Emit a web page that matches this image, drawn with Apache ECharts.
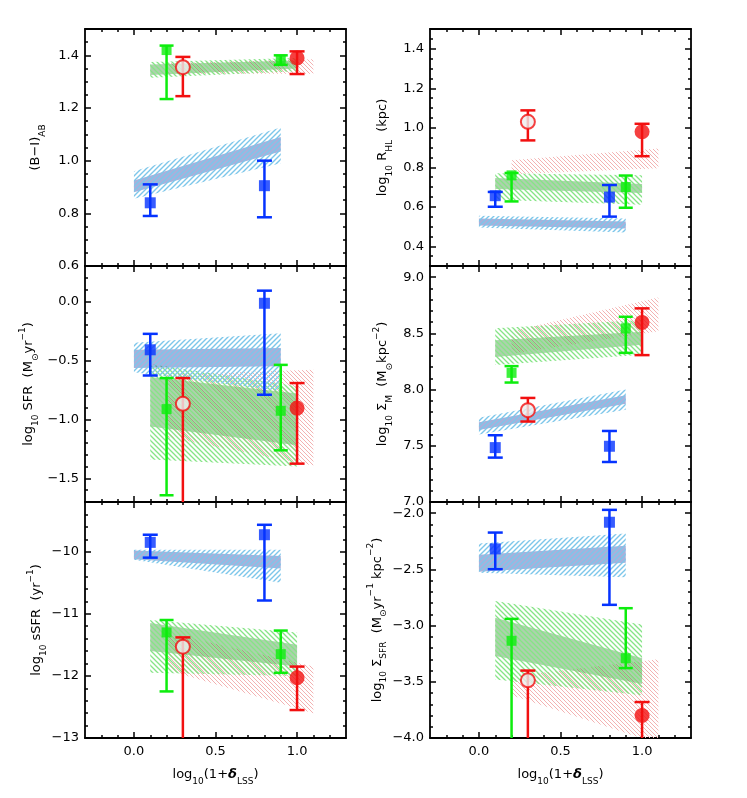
<!DOCTYPE html>
<html>
<head>
<meta charset="utf-8">
<script src="https://cdn.jsdelivr.net/npm/echarts@6/dist/echarts.min.js"></script>
<style>
html,body{margin:0;padding:0;background:#fff;}
#chart{width:747px;height:798px;}
</style>
</head>
<body>
<div id="chart"></div>
<script>
// ---- data: points are [x, y, errLo, errHi], bands are [x0, lo0, hi0, x1, lo1, hi1]
// (B-I)_AB
var biBlue = [[0.1, 0.84, 0.79, 0.91], [0.8, 0.905, 0.785, 1.00]];
var biGreen = [[0.2, 1.42, 1.234, 1.437], [0.9, 1.383, 1.364, 1.40]];
var biRedOpen = [[0.3, 1.355, 1.245, 1.394]];
var biRedFill = [[1.0, 1.39, 1.329, 1.415]];
var biBlueIn = [0.0, 0.88, 0.925, 0.9, 1.035, 1.09];
var biBlueOut = [0.0, 0.855, 0.96, 0.9, 0.99, 1.126];
var biGreenIn = [0.1, 1.325, 1.365, 1.0, 1.35, 1.38];
var biGreenOut = [0.1, 1.315, 1.375, 1.0, 1.34, 1.39];
var biRedOut = [0.2, 1.33, 1.37, 1.1, 1.33, 1.385];

// log R_HL
var rBlue = [[0.1, 0.656, 0.60, 0.675], [0.8, 0.649, 0.55, 0.71]];
var rGreen = [[0.2, 0.759, 0.627, 0.771], [0.9, 0.70, 0.595, 0.758]];
var rRedOpen = [[0.3, 1.03, 0.936, 1.088]];
var rRedFill = [[1.0, 0.98, 0.856, 1.02]];
var rBlueIn = [0.0, 0.505, 0.54, 0.9, 0.49, 0.525];
var rBlueOut = [0.0, 0.495, 0.555, 0.9, 0.47, 0.54];
var rGreenIn = [0.1, 0.69, 0.745, 1.0, 0.67, 0.715];
var rGreenOut = [0.1, 0.635, 0.77, 1.0, 0.61, 0.76];
var rRedOut = [0.2, 0.765, 0.835, 1.1, 0.795, 0.895];

// log SFR
var sfrBlue = [[0.1, -0.41, -0.628, -0.275], [0.8, -0.016, -0.791, 0.091]];
var sfrGreen = [[0.2, -0.913, -1.643, -0.65], [0.9, -0.927, -1.262, -0.538]];
var sfrRedOpen = [[0.3, -0.868, -2.5, -0.65]];
var sfrRedFill = [[1.0, -0.904, -1.375, -0.692]];
var sfrBlueIn = [0.0, -0.565, -0.41, 0.9, -0.55, -0.395];
var sfrBlueOut = [0.0, -0.6, -0.35, 0.9, -0.76, -0.27];
var sfrGreenIn = [0.1, -1.06, -0.64, 1.0, -1.22, -0.78];
var sfrGreenOut = [0.1, -1.34, -0.53, 1.0, -1.40, -0.72];
var sfrRedOut = [0.2, -1.15, -0.62, 1.1, -1.39, -0.58];

// log Sigma_M
var smBlue = [[0.1, 7.484, 7.395, 7.594], [0.8, 7.496, 7.356, 7.632]];
var smGreen = [[0.2, 8.149, 8.063, 8.209], [0.9, 8.545, 8.327, 8.648]];
var smRedOpen = [[0.3, 7.817, 7.716, 7.926]];
var smRedFill = [[1.0, 8.598, 8.307, 8.723]];
var smBlueIn = [0.0, 7.64, 7.71, 0.9, 7.875, 7.95];
var smBlueOut = [0.0, 7.6, 7.75, 0.9, 7.82, 8.0];
var smGreenIn = [0.1, 8.29, 8.44, 1.0, 8.40, 8.515];
var smGreenOut = [0.1, 8.22, 8.545, 1.0, 8.31, 8.62];
var smRedOut = [0.2, 8.32, 8.52, 1.1, 8.52, 8.82];

// log sSFR
var ssBlue = [[0.1, -9.85, -10.096, -9.727], [0.8, -9.727, -10.786, -9.567]];
var ssGreen = [[0.2, -11.3, -12.25, -11.1], [0.9, -11.65, -11.95, -11.27]];
var ssRedOpen = [[0.3, -11.53, -14, -11.38]];
var ssRedFill = [[1.0, -12.03, -12.55, -11.85]];
var ssBlueIn = [0.0, -10.12, -9.98, 0.9, -10.27, -10.07];
var ssBlueOut = [0.0, -10.13, -9.97, 0.9, -10.5, -9.97];
var ssGreenIn = [0.1, -11.6, -11.15, 1.0, -11.85, -11.5];
var ssGreenOut = [0.1, -11.95, -11.1, 1.0, -12.0, -11.3];
var ssRedOut = [0.2, -11.9, -11.3, 1.1, -12.6, -11.85];

// log Sigma_SFR
var sdBlue = [[0.1, -2.317, -2.498, -2.172], [0.8, -2.08, -2.815, -1.97]];
var sdGreen = [[0.2, -3.135, -4.5, -2.94], [0.9, -3.29, -3.378, -2.845]];
var sdRedOpen = [[0.3, -3.487, -4.5, -3.40]];
var sdRedFill = [[1.0, -3.80, -4.5, -3.68]];
var sdBlueIn = [0.0, -2.52, -2.37, 0.9, -2.44, -2.29];
var sdBlueOut = [0.0, -2.53, -2.27, 0.9, -2.57, -2.18];
var sdGreenIn = [0.1, -3.27, -2.93, 1.0, -3.52, -3.29];
var sdGreenOut = [0.1, -3.48, -2.78, 1.0, -3.62, -2.99];
var sdRedOut = [0.2, -3.62, -3.45, 1.1, -4.05, -3.3];

// ---- ticks
var xMajor = [0, 0.5, 1.0];
var xMinor = [-0.2, -0.1, 0.1, 0.2, 0.3, 0.4, 0.6, 0.7, 0.8, 0.9, 1.1, 1.2];
var yMajorBI = [0.6, 0.8, 1.0, 1.2, 1.4];
var yMajorR = [0.4, 0.6, 0.8, 1.0, 1.2, 1.4];
var yMajorSFR = [-1.5, -1.0, -0.5, 0.0];
var yMajorSM = [7.0, 7.5, 8.0, 8.5, 9.0];
var yMajorSS = [-13, -12, -11, -10];
var yMajorSD = [-4.0, -3.5, -3.0, -2.5, -2.0];

// ---- colours
var cBlue = '#0533ff', cGreen = '#0ded0d', cRed = '#f21010';
var font = 'DejaVu Sans';

function hatch(color, gap, w, dir) {
    var c = document.createElement('canvas');
    c.width = gap; c.height = gap;
    var ctx = c.getContext('2d');
    ctx.strokeStyle = color;
    ctx.lineWidth = w;
    ctx.beginPath();
    if (dir > 0) {
        ctx.moveTo(-1, gap + 1); ctx.lineTo(gap + 1, -1);
        ctx.moveTo(-1, 1); ctx.lineTo(1, -1);
        ctx.moveTo(gap - 1, gap + 1); ctx.lineTo(gap + 1, gap - 1);
    } else {
        ctx.moveTo(-1, -1); ctx.lineTo(gap + 1, gap + 1);
        ctx.moveTo(gap - 1, -1); ctx.lineTo(gap + 1, 1);
        ctx.moveTo(-1, gap - 1); ctx.lineTo(1, gap + 1);
    }
    ctx.stroke();
    return { image: c, repeat: 'repeat' };
}
var blueHatch = hatch('#7cc6ea', 5, 1.4, 1);
var greenHatch = hatch('#86e486', 5, 1.3, -1);
var redHatch = hatch('#f3b2b2', 4, 1, -1);
var blueInFill = 'rgba(75,90,178,0.48)';
var greenInFill = 'rgba(60,145,60,0.42)';

function minors(lo, hi, step, major) {
    var out = [];
    for (var v = lo; v <= hi + 1e-9; v += step) {
        var r = Math.round(v * 1000) / 1000;
        if (major.indexOf(r) < 0) out.push(r);
    }
    return out;
}

var rich = {
    n: { fontSize: 13, fontFamily: font, lineHeight: 22, color: '#000' },
    s: { fontSize: 9, fontFamily: font, lineHeight: 12, verticalAlign: 'bottom', color: '#000' },
    p: { fontSize: 9, fontFamily: font, lineHeight: 12, verticalAlign: 'top', color: '#000' },
    d: { fontSize: 13, fontFamily: font, lineHeight: 22, fontWeight: 'bold', fontStyle: 'italic', color: '#000' }
};

var panels = [
    { col: 0, row: 0, min: 0.6, max: 1.5, major: yMajorBI, step: 0.05, dec: 1, gap: 38,
      name: '{n|(B\u2212I)}{s|AB}',
      blue: biBlue, green: biGreen, redOpen: biRedOpen, redFill: biRedFill,
      bands: [[biRedOut, redHatch], [biGreenIn, greenInFill], [biGreenOut, greenHatch], [biBlueIn, blueInFill], [biBlueOut, blueHatch]] },
    { col: 1, row: 0, min: 0.3, max: 1.5, major: yMajorR, step: 0.05, dec: 1, gap: 36,
      name: '{n|log}{s|10}{n| R}{s|HL}{n|  (kpc)}',
      blue: rBlue, green: rGreen, redOpen: rRedOpen, redFill: rRedFill,
      bands: [[rRedOut, redHatch], [rGreenIn, greenInFill], [rGreenOut, greenHatch], [rBlueIn, blueInFill], [rBlueOut, blueHatch]] },
    { col: 0, row: 1, min: -1.7, max: 0.3, major: yMajorSFR, step: 0.1, dec: 1, gap: 45,
      name: '{n|log}{s|10}{n| SFR  (M}{s|\u2299}{n|yr}{p|\u22121}{n|)}',
      blue: sfrBlue, green: sfrGreen, redOpen: sfrRedOpen, redFill: sfrRedFill,
      bands: [[sfrRedOut, redHatch], [sfrGreenIn, greenInFill], [sfrGreenOut, greenHatch], [sfrBlueIn, blueInFill], [sfrBlueOut, blueHatch]] },
    { col: 1, row: 1, min: 7.0, max: 9.1, major: yMajorSM, step: 0.1, dec: 1, gap: 36,
      name: '{n|log}{s|10}{n| \u03a3}{s|M}{n|  (M}{s|\u2299}{n|kpc}{p|\u22122}{n|)}',
      blue: smBlue, green: smGreen, redOpen: smRedOpen, redFill: smRedFill,
      bands: [[smRedOut, redHatch], [smGreenIn, greenInFill], [smGreenOut, greenHatch], [smBlueIn, blueInFill], [smBlueOut, blueHatch]] },
    { col: 0, row: 2, min: -13, max: -9.2, major: yMajorSS, step: 0.2, dec: 0, gap: 36,
      name: '{n|log}{s|10}{n| sSFR  (yr}{p|\u22121}{n|)}',
      blue: ssBlue, green: ssGreen, redOpen: ssRedOpen, redFill: ssRedFill,
      bands: [[ssRedOut, redHatch], [ssGreenIn, greenInFill], [ssGreenOut, greenHatch], [ssBlueIn, blueInFill], [ssBlueOut, blueHatch]] },
    { col: 1, row: 2, min: -4.0, max: -1.9, major: yMajorSD, step: 0.1, dec: 1, gap: 39,
      name: '{n|log}{s|10}{n| \u03a3}{s|SFR}{n|  (M}{s|\u2299}{n|yr}{p|\u22121}{n| kpc}{p|\u22122}{n|)}',
      blue: sdBlue, green: sdGreen, redOpen: sdRedOpen, redFill: sdRedFill,
      bands: [[sdRedOut, redHatch], [sdGreenIn, greenInFill], [sdGreenOut, greenHatch], [sdBlueIn, blueInFill], [sdBlueOut, blueHatch]] }
];

var colLeft = [85, 430], rowTop = [29, 266, 502], rowH = [237, 236, 236];
var lineStyle = { color: '#000', width: 1.8 };
var tickStyle = { color: '#000', width: 1.5 };

function fmt(dec) {
    return function (v) { return v.toFixed(dec).replace('-', '\u2212'); };
}

function bandSeries(g, arr, fill) {
    return {
        type: 'custom', xAxisIndex: 4 * g, yAxisIndex: 4 * g, clip: true, silent: true, z: 1,
        data: [arr],
        renderItem: function (params, api) {
            var a = api.coord([api.value(0), api.value(1)]);
            var b = api.coord([api.value(0), api.value(2)]);
            var c = api.coord([api.value(3), api.value(5)]);
            var d = api.coord([api.value(3), api.value(4)]);
            return { type: 'polygon', shape: { points: [a, b, c, d] }, style: { fill: fill } };
        }
    };
}

function errSeries(g, pts, color, capW) {
    return {
        type: 'custom', xAxisIndex: 4 * g, yAxisIndex: 4 * g, clip: true, silent: true, z: 2,
        data: pts,
        renderItem: function (params, api) {
            var x = api.value(0);
            var lo = api.coord([x, api.value(2)]);
            var hi = api.coord([x, api.value(3)]);
            var h = capW / 2;
            var st = { stroke: color, lineWidth: 2.5 };
            return {
                type: 'group', children: [
                    { type: 'line', shape: { x1: lo[0], y1: lo[1], x2: hi[0], y2: hi[1] }, style: st },
                    { type: 'line', shape: { x1: lo[0] - h, y1: lo[1], x2: lo[0] + h, y2: lo[1] }, style: st },
                    { type: 'line', shape: { x1: hi[0] - h, y1: hi[1], x2: hi[0] + h, y2: hi[1] }, style: st }
                ]
            };
        }
    };
}

function symSeries(g, pts, symbol, size, itemStyle) {
    return {
        type: 'scatter', xAxisIndex: 4 * g, yAxisIndex: 4 * g, silent: true, z: 3,
        symbol: symbol, symbolSize: size, itemStyle: itemStyle,
        data: pts.map(function (p) { return [p[0], p[1]]; })
    };
}

var grids = [], xAxes = [], yAxes = [], series = [];
panels.forEach(function (p, g) {
    grids.push({ left: colLeft[p.col], top: rowTop[p.row], width: 261, height: rowH[p.row] });
    var bottomRow = p.row === 2;
    var xBase = { gridIndex: g, type: 'value', min: -0.3, max: 1.3, splitLine: { show: false } };
    xAxes.push(Object.assign({}, xBase, {
        position: 'bottom',
        axisLine: { show: true, onZero: false, lineStyle: lineStyle },
        axisTick: { show: true, inside: true, length: 6, lineStyle: tickStyle, customValues: xMajor },
        axisLabel: { show: bottomRow, customValues: xMajor, formatter: fmt(1), margin: 7,
            fontSize: 13, fontFamily: font, color: '#000' },
        name: bottomRow ? '{n|log}{s|10}{n|(1+}{d|\u03b4}{s|LSS}{n|)}' : '',
        nameLocation: 'middle', nameGap: 26,
        nameTextStyle: { rich: rich }
    }));
    xAxes.push(Object.assign({}, xBase, {
        position: 'bottom', axisLine: { show: false, onZero: false },
        axisTick: { show: true, inside: true, length: 3, lineStyle: tickStyle, customValues: xMinor },
        axisLabel: { show: false }
    }));
    xAxes.push(Object.assign({}, xBase, {
        position: 'top', axisLine: { show: true, onZero: false, lineStyle: lineStyle },
        axisTick: { show: true, inside: true, length: 6, lineStyle: tickStyle, customValues: xMajor },
        axisLabel: { show: false }
    }));
    xAxes.push(Object.assign({}, xBase, {
        position: 'top', axisLine: { show: false, onZero: false },
        axisTick: { show: true, inside: true, length: 3, lineStyle: tickStyle, customValues: xMinor },
        axisLabel: { show: false }
    }));

    var yMinor = minors(p.min, p.max, p.step, p.major);
    var yBase = { gridIndex: g, type: 'value', min: p.min, max: p.max, splitLine: { show: false } };
    yAxes.push(Object.assign({}, yBase, {
        position: 'left',
        axisLine: { show: true, onZero: false, lineStyle: lineStyle },
        axisTick: { show: true, inside: true, length: 6, lineStyle: tickStyle, customValues: p.major },
        axisLabel: { show: true, customValues: p.major, formatter: fmt(p.dec), margin: 6,
            fontSize: 13, fontFamily: font, color: '#000' },
        name: p.name, nameLocation: 'middle', nameRotate: 90, nameGap: p.gap,
        nameTextStyle: { rich: rich }
    }));
    yAxes.push(Object.assign({}, yBase, {
        position: 'left', axisLine: { show: false, onZero: false },
        axisTick: { show: true, inside: true, length: 3, lineStyle: tickStyle, customValues: yMinor },
        axisLabel: { show: false }
    }));
    yAxes.push(Object.assign({}, yBase, {
        position: 'right', axisLine: { show: true, onZero: false, lineStyle: lineStyle },
        axisTick: { show: true, inside: true, length: 6, lineStyle: tickStyle, customValues: p.major },
        axisLabel: { show: false }
    }));
    yAxes.push(Object.assign({}, yBase, {
        position: 'right', axisLine: { show: false, onZero: false },
        axisTick: { show: true, inside: true, length: 3, lineStyle: tickStyle, customValues: yMinor },
        axisLabel: { show: false }
    }));

    p.bands.forEach(function (b) { series.push(bandSeries(g, b[0], b[1])); });
    series.push(errSeries(g, p.blue, cBlue, 15));
    series.push(errSeries(g, p.green, cGreen, 14));
    series.push(errSeries(g, p.redOpen, cRed, 15));
    series.push(errSeries(g, p.redFill, cRed, 15));
    series.push(symSeries(g, p.blue, 'rect', 11, { color: cBlue }));
    series.push(symSeries(g, p.green, 'rect', 10, { color: cGreen }));
    series.push(symSeries(g, p.redOpen, 'circle', 14, { color: '#eeeeee', borderColor: cRed, borderWidth: 2 }));
    series.push(symSeries(g, p.redFill, 'circle', 15, { color: cRed }));
});

var myChart = echarts.init(document.getElementById('chart'), null, { renderer: 'canvas' });
myChart.setOption({
    animation: false,
    backgroundColor: '#fff',
    grid: grids,
    xAxis: xAxes,
    yAxis: yAxes,
    series: series
});
</script>
</body>
</html>
